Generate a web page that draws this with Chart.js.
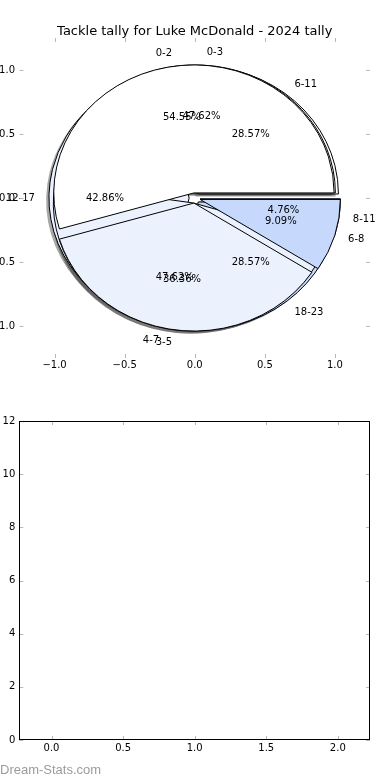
<!DOCTYPE html>
<html>
<head>
<meta charset="utf-8">
<script src="https://cdn.jsdelivr.net/npm/chart.js@4"></script>
<style>
    body { margin: 0; background: #fff; }
    #wrap { position: relative; width: 390px; height: 780px; overflow: hidden; }
    .box { position: absolute; left: 0; width: 390px; height: 390px; }
    #mark { position: absolute; left: 0; top: 762px; font: 13px "Liberation Sans", Arial, sans-serif; color: #9c9c9c; }
</style>
</head>
<body>
<div id="wrap">
    <div class="box" style="top:0"><canvas id="pieChart" width="390" height="390"></canvas></div>
    <div class="box" style="top:390px"><canvas id="emptyChart" width="390" height="390"></canvas></div>
    <div id="mark">Dream-Stats.com</div>
</div>
<script>
// tackle bins and game counts, one pie per season, all drawn on the same axes
const pie1Labels = ["6-11", "12-17", "18-23"];
const pie1Games = [2, 3, 2];
const pie2Labels = ["0-3", "4-7", "8-11"];
const pie2Games = [10, 10, 1];
const pie3Labels = ["0-2", "3-5", "6-8"];
const pie3Games = [6, 4, 1];

const pieTicks = [-1, -0.5, 0, 0.5, 1];
const emptyXTicks = [0, 0.5, 1, 1.5, 2];
const emptyYTicks = [0, 2, 4, 6, 8, 10, 12];
const emptyValues = [];

const wedgeColors = ["#ffffff", "#ebf1fd", "#c6d9fd"];
const EXPLODE = 0.04;
const SHADOW = 0.02;

Chart.defaults.font.family = "'DejaVu Sans'";
Chart.defaults.font.size = 10;
Chart.defaults.color = "#000";

const fmt1 = v => v.toFixed(1).replace("-", "\u2212");

function buildWedges(labels, games) {
    const total = games.reduce((a, b) => a + b, 0);
    let a = 0;
    return games.map((g, i) => {
        const a1 = a, a2 = a + g / total * 2 * Math.PI;
        a = a2;
        const mid = (a1 + a2) / 2;
        return {
            a1, a2, mid,
            ox: EXPLODE * Math.cos(mid),
            oy: EXPLODE * Math.sin(mid),
            label: labels[i],
            pct: (g / total * 100).toFixed(2) + "%",
            color: wedgeColors[i]
        };
    });
}

const pies = [
    buildWedges(pie1Labels, pie1Games),
    buildWedges(pie2Labels, pie2Games),
    buildWedges(pie3Labels, pie3Games)
];

function wedgePath(ctx, xs, ys, cx, cy, a1, a2) {
    const px = xs.getPixelForValue(cx), py = ys.getPixelForValue(cy);
    const rx = xs.getPixelForValue(cx + 1) - px;
    const ry = py - ys.getPixelForValue(cy + 1);
    ctx.beginPath();
    ctx.moveTo(px, py);
    ctx.ellipse(px, py, rx, ry, 0, -a2, -a1);
    ctx.closePath();
}

const piePlugin = {
    id: "piePlugin",
    afterLayout(chart) {
        // centre the title over the axes box, like matplotlib
        if (chart.titleBlock) {
            chart.titleBlock.left = chart.chartArea.left;
            chart.titleBlock.right = chart.chartArea.right;
        }
    },
    afterDatasetsDraw(chart) {
        const { ctx, scales: { x, y } } = chart;
        ctx.save();
        // shadows sit under every wedge
        pies.forEach(p => p.forEach(w => {
            wedgePath(ctx, x, y, w.ox - SHADOW, w.oy - SHADOW, w.a1, w.a2);
            ctx.globalAlpha = 0.5;
            ctx.fillStyle = "#4d4d4d";
            ctx.fill();
        }));
        ctx.globalAlpha = 1;
        pies.forEach(p => p.forEach(w => {
            wedgePath(ctx, x, y, w.ox, w.oy, w.a1, w.a2);
            ctx.fillStyle = w.color;
            ctx.fill();
            ctx.lineWidth = 1;
            ctx.strokeStyle = "#000";
            ctx.stroke();
        }));
        ctx.fillStyle = "#000";
        ctx.font = "10px 'DejaVu Sans'";
        ctx.textBaseline = "middle";
        pies.forEach(p => p.forEach(w => {
            const lx = w.ox + 1.1 * Math.cos(w.mid), ly = w.oy + 1.1 * Math.sin(w.mid);
            ctx.textAlign = lx > 0 ? "left" : "right";
            ctx.fillText(w.label, x.getPixelForValue(lx), y.getPixelForValue(ly));
            const tx = w.ox + 0.6 * Math.cos(w.mid), ty = w.oy + 0.6 * Math.sin(w.mid);
            ctx.textAlign = "center";
            ctx.fillText(w.pct, x.getPixelForValue(tx), y.getPixelForValue(ty));
        }));
        ctx.restore();
    }
};

const tickMarks = {
    id: "tickMarks",
    afterDraw(chart, args, opts) {
        const { ctx, chartArea: a, scales: { x, y } } = chart;
        ctx.save();
        ctx.strokeStyle = "#b8b8b8";
        ctx.lineWidth = 1;
        ctx.beginPath();
        x.ticks.forEach(t => {
            const px = Math.round(x.getPixelForValue(t.value)) + 0.5;
            ctx.moveTo(px, a.top); ctx.lineTo(px, a.top + 4);
            ctx.moveTo(px, a.bottom); ctx.lineTo(px, a.bottom - 4);
        });
        y.ticks.forEach(t => {
            const py = Math.round(y.getPixelForValue(t.value)) + 0.5;
            ctx.moveTo(a.left, py); ctx.lineTo(a.left + 4, py);
            ctx.moveTo(a.right, py); ctx.lineTo(a.right - 4, py);
        });
        ctx.stroke();
        if (opts.frame) {
            ctx.strokeStyle = "#000";
            ctx.strokeRect(Math.round(a.left) + 0.5, Math.round(a.top) + 0.5,
                Math.round(a.width) - 1, Math.round(a.height) - 1);
        }
        ctx.restore();
    }
};

function axis(min, max, tickList, fmt, pad, fit) {
    return {
        type: "linear", min: min, max: max,
        afterBuildTicks: s => { s.ticks = tickList.map(v => ({ value: v })); },
        ticks: { callback: fmt, padding: pad, autoSkip: false, maxRotation: 0 },
        grid: { display: false, drawTicks: false },
        border: { display: false },
        afterFit: fit
    };
}

new Chart(document.getElementById("pieChart"), {
    type: "scatter",
    data: { datasets: [{ data: [] }] },
    options: {
        responsive: false,
        animation: false,
        layout: { padding: { left: 0, right: 20, top: 0, bottom: 0 } },
        plugins: {
            legend: { display: false },
            tooltip: { enabled: false },
            title: {
                display: true,
                text: "Tackle tally for Luke McDonald - 2024 tally",
                font: { size: 13, weight: "normal", lineHeight: 1 },
                color: "#000",
                padding: { top: 25, bottom: 0 }
            },
            tickMarks: { frame: false }
        },
        scales: {
            x: axis(-1.25, 1.25, pieTicks, fmt1, 1, s => { s.height = 32; }),
            y: axis(-1.25, 1.25, pieTicks, fmt1, 4.5, s => { s.width = 19.5; })
        }
    },
    plugins: [piePlugin, tickMarks]
});

new Chart(document.getElementById("emptyChart"), {
    type: "scatter",
    data: { datasets: [{ data: emptyValues }] },
    options: {
        responsive: false,
        animation: false,
        layout: { padding: { left: 0, right: 20, top: 31, bottom: 0 } },
        plugins: {
            legend: { display: false },
            tooltip: { enabled: false },
            tickMarks: { frame: true }
        },
        scales: {
            x: axis(-0.225, 2.225, emptyXTicks, fmt1, 2.5, s => { s.height = 40; }),
            y: axis(0, 12, emptyYTicks, v => String(v), 4, s => { s.width = 19.3; })
        }
    },
    plugins: [tickMarks]
});
</script>
</body>
</html>
